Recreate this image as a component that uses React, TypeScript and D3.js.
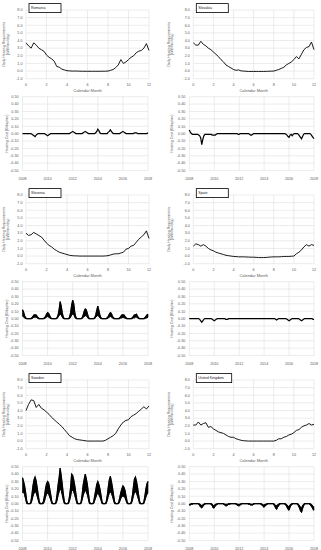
import React from "react";
import * as d3 from "d3";

// 국가 이름 (범례 상자)
const countries = ["Romania", "Slovakia", "Slovenia", "Spain", "Sweden", "United Kingdom"];

// 축 눈금
const monthTicks = [0, 2, 4, 6, 8, 10, 12];
const heatTicks = [-1, 0, 1, 2, 3, 4, 5, 6, 7, 8];
const yearTicks = [2008, 2010, 2012, 2014, 2016, 2018];
const costTicks = [-0.5, -0.4, -0.3, -0.2, -0.1, 0, 0.1, 0.2, 0.3, 0.4, 0.5];

// 일일 난방 요구량 (kWh/m²/day), 0~12월, 0.25개월 간격
const heatRomania = [
  3.7, 3.3, 3.0, 3.7, 3.4, 3.0, 2.8, 2.6, 2.1, 1.8, 1.6, 1.3,
  0.6, 0.5, 0.25, 0.15, 0.05, 0.02, 0.0, 0.0, 0.0, -0.02, -0.02, -0.03,
  -0.03, -0.03, -0.03, -0.03, -0.03, -0.03, -0.02, -0.02, 0.0, 0.1, 0.2, 0.45,
  0.8, 1.5, 1.0, 1.2, 1.5, 1.8, 2.0, 2.4, 2.6, 2.7, 3.0, 3.6, 2.7,
];
const heatSlovakia = [
  3.7, 3.4, 3.4, 3.9, 3.5, 3.3, 3.0, 2.8, 2.5, 2.2, 1.9, 1.5,
  1.2, 0.8, 0.6, 0.4, 0.2, 0.1, 0.15, 0.02, 0.0, -0.03, -0.05, -0.05,
  -0.05, -0.05, -0.05, -0.05, -0.05, -0.04, -0.03, -0.01, 0.0, 0.1, 0.2, 0.35,
  0.5, 0.8, 1.0, 1.2, 1.5, 1.9, 1.6, 2.2, 2.8, 3.1, 3.2, 3.8, 2.8,
];
const heatSlovenia = [
  3.0, 2.7, 2.8, 3.1, 2.9, 2.7, 2.5, 2.1, 1.7, 1.4, 1.2, 0.9,
  0.7, 0.5, 0.4, 0.3, 0.2, 0.1, 0.05, 0.03, 0.02, 0.0, 0.0, 0.0,
  0.0, 0.0, 0.0, 0.0, 0.0, 0.0, 0.0, 0.02, 0.05, 0.15, 0.25, 0.3,
  0.3, 0.4, 0.5, 0.9, 1.0, 1.3, 1.4, 1.8, 2.2, 2.5, 2.8, 3.3, 2.3,
];
const heatSpain = [
  1.3, 1.6, 1.5, 1.3, 1.5, 1.3, 1.0, 0.8, 0.7, 0.5, 0.4, 0.3,
  0.2, 0.1, 0.05, 0.0, -0.05, -0.07, -0.1, -0.1, -0.1, -0.12, -0.13, -0.15,
  -0.15, -0.17, -0.2, -0.2, -0.2, -0.18, -0.15, -0.12, -0.1, -0.1, -0.1, -0.08,
  -0.05, -0.05, -0.05, -0.02, 0.0, 0.3, 0.5, 0.8, 1.2, 1.5, 1.3, 1.5, 1.4,
];
const heatSweden = [
  4.0, 4.8, 5.4, 5.3, 4.4, 4.8, 4.3, 4.1, 3.8, 3.5, 3.1, 2.8,
  2.5, 2.2, 1.9, 1.5, 1.1, 0.7, 0.5, 0.3, 0.2, 0.15, 0.1, 0.05,
  0.0, 0.0, 0.0, 0.0, 0.0, 0.0, 0.0, 0.1, 0.3, 0.5, 0.7, 1.0,
  1.6, 2.1, 2.5, 2.7, 2.8, 3.2, 3.4, 3.6, 3.9, 4.2, 4.5, 4.2, 4.6,
];
const heatUK = [
  2.1, 2.1, 2.5, 2.1, 2.3, 2.4, 1.8, 1.9, 1.6, 1.4, 1.2, 1.1,
  1.0, 0.8, 0.6, 0.5, 0.5, 0.3, 0.2, 0.1, 0.05, 0.02, 0.0, 0.0,
  0.0, 0.0, 0.0, 0.0, 0.0, 0.0, 0.0, 0.0, 0.0, 0.1, 0.3, 0.3,
  0.5, 0.6, 0.8, 0.9, 1.1, 1.4, 1.5, 1.8, 2.0, 2.1, 2.3, 2.1, 2.2,
];

// 난방 비용 (€/day/m²), 2008.0~2018.0 월별 (위쪽 / 아래쪽 경계)
const costRomania = [
  0, 0, 0, 0, 0, 0, 0, 0, 0, -0.01, -0.02, -0.03,
  -0.04, -0.02, -0.01, 0, 0, 0, 0, 0, 0, 0, -0.01, -0.02,
  -0.03, -0.02, -0.01, 0, 0, 0, 0, 0, 0, 0, 0, 0,
  0, 0, 0, 0, 0, 0, 0, 0, 0, 0, 0.01, 0.02,
  0.03, 0.02, 0.01, 0, 0, 0, 0, 0, 0, 0, 0.01, 0.02,
  0.03, 0.02, 0.01, 0, 0, 0, 0, 0, 0, 0, 0.01, 0.03,
  0.06, 0.04, 0.01, 0, 0, 0, 0, 0, 0, 0, 0.02, 0.03,
  0.05, 0.03, 0.01, 0, 0, 0, 0, 0, 0, 0, 0.01, 0.02,
  0.03, 0.02, 0.01, 0, 0, 0, 0, 0, 0, 0, 0, 0.01,
  0.01, 0.01, 0, 0, 0, 0, 0, 0, 0, 0, 0, 0,
  0.01,
];
const costSlovakia = [
  0.05, 0.02, 0, -0.01, -0.01, -0.01, -0.01, -0.01, -0.01, -0.02, -0.03, -0.06,
  -0.15, -0.08, -0.03, -0.01, -0.01, -0.01, -0.01, -0.01, -0.01, -0.01, -0.02, -0.02,
  -0.02, -0.02, -0.01, 0, 0, 0, 0, 0, 0, 0, 0, 0,
  0, 0, 0, 0, 0, 0, 0, 0, 0, 0, 0, -0.01,
  -0.01, 0, 0, 0, 0, 0, 0, 0, 0, 0, -0.01, -0.02,
  -0.02, -0.01, 0, 0, 0, 0, 0, 0, 0, 0, 0, 0,
  0, 0, 0, 0, 0, 0, 0, 0, 0, 0, 0, 0,
  0, 0, 0, 0, 0, 0, 0, 0, 0, -0.01, -0.02, -0.04,
  -0.05, -0.02, -0.01, -0.03, -0.01, 0, 0, 0, 0, -0.01, -0.03, -0.05,
  -0.07, -0.04, -0.01, 0, 0, 0, 0, 0, 0, -0.01, -0.03, -0.05,
  -0.07,
];
const costSpain = [
  0, 0, 0, 0, 0, 0, 0, 0, 0, 0, -0.01, -0.03,
  -0.05, -0.03, -0.01, 0, 0, 0, 0, 0, 0, 0, -0.01, -0.02,
  -0.03, -0.02, -0.01, 0, 0, 0, 0, 0, 0, 0, 0, -0.01,
  -0.01, -0.01, 0, 0, 0, 0, 0, 0, 0, 0, 0, 0,
  0, 0, 0, 0, 0, 0, 0, 0, 0, 0, 0, 0,
  0, 0, 0, 0, 0, 0, 0, 0, 0, 0, 0, 0,
  0, 0, 0, 0, 0, 0, 0, 0, 0, 0, 0, -0.01,
  -0.02, -0.01, 0, 0, 0, 0, 0, 0, 0, 0, -0.01, -0.02,
  -0.03, -0.02, -0.01, 0, 0, 0, 0, 0, 0, 0, -0.01, -0.02,
  -0.03, -0.02, -0.01, 0, 0, 0, 0, 0, 0, 0, 0, -0.01,
  -0.01,
];
const costSloveniaHi = [
  0.12, 0.09, 0.04, 0.01, 0, 0, 0, 0, 0, 0.01, 0.03, 0.05,
  0.05, 0.05, 0.03, 0.01, 0, 0, 0, 0, 0, 0.01, 0.03, 0.06,
  0.08, 0.07, 0.04, 0.01, 0, 0, 0, 0, 0, 0.01, 0.05, 0.12,
  0.23, 0.17, 0.08, 0.02, 0, 0, 0, 0, 0, 0.02, 0.08, 0.18,
  0.25, 0.20, 0.08, 0.02, 0, 0, 0, 0, 0, 0.01, 0.05, 0.10,
  0.13, 0.12, 0.07, 0.02, 0, 0, 0, 0, 0, 0.01, 0.05, 0.11,
  0.17, 0.11, 0.05, 0.01, 0, 0, 0, 0, 0, 0.01, 0.03, 0.06,
  0.08, 0.07, 0.03, 0.01, 0, 0, 0, 0, 0, 0.01, 0.03, 0.05,
  0.05, 0.05, 0.03, 0.01, 0, 0, 0, 0, 0, 0.01, 0.03, 0.05,
  0.05, 0.06, 0.03, 0.01, 0, 0, 0, 0, 0, 0.01, 0.03, 0.05,
  0.06,
];
const costSloveniaLo = [
  0.04, 0.02, 0.01, 0, 0, 0, 0, 0, 0, 0, 0.01, 0.02,
  0.02, 0.02, 0.01, 0, 0, 0, 0, 0, 0, 0, 0.01, 0.02,
  0.03, 0.02, 0.01, 0, 0, 0, 0, 0, 0, 0, 0.02, 0.04,
  0.06, 0.05, 0.02, 0, 0, 0, 0, 0, 0, 0, 0.02, 0.05,
  0.06, 0.06, 0.02, 0, 0, 0, 0, 0, 0, 0, 0.02, 0.03,
  0.04, 0.04, 0.02, 0, 0, 0, 0, 0, 0, 0, 0.02, 0.03,
  0.05, 0.03, 0.01, 0, 0, 0, 0, 0, 0, 0, 0.01, 0.02,
  0.03, 0.02, 0.01, 0, 0, 0, 0, 0, 0, 0, 0.01, 0.01,
  0.02, 0.01, 0.01, 0, 0, 0, 0, 0, 0, 0, 0.01, 0.01,
  0.02, 0.02, 0.01, 0, 0, 0, 0, 0, 0, 0, 0.01, 0.01,
  0.02,
];
const costSwedenHi = [
  0.35, 0.30, 0.24, 0.15, 0.04, 0, 0, 0, 0.02, 0.12, 0.24, 0.32,
  0.36, 0.31, 0.22, 0.12, 0.03, 0, 0, 0, 0.03, 0.10, 0.20, 0.27,
  0.30, 0.28, 0.20, 0.12, 0.03, 0, 0, 0, 0.02, 0.12, 0.25, 0.35,
  0.48, 0.38, 0.26, 0.13, 0.03, 0, 0, 0, 0.02, 0.10, 0.22, 0.40,
  0.38, 0.32, 0.24, 0.14, 0.04, 0, 0, 0, 0.02, 0.12, 0.25, 0.33,
  0.40, 0.34, 0.26, 0.14, 0.03, 0, 0, 0, 0.02, 0.10, 0.18, 0.26,
  0.30, 0.26, 0.20, 0.12, 0.03, 0, 0, 0, 0.02, 0.10, 0.22, 0.32,
  0.37, 0.30, 0.22, 0.12, 0.03, 0, 0, 0, 0.02, 0.08, 0.15, 0.20,
  0.24, 0.22, 0.18, 0.10, 0.03, 0, 0, 0, 0.02, 0.10, 0.22, 0.33,
  0.36, 0.30, 0.22, 0.12, 0.03, 0, 0, 0, 0.02, 0.10, 0.20, 0.27,
  0.30,
];
const costSwedenLo = [
  0.15, 0.16, 0.12, 0.06, 0, 0, 0, 0, 0, 0.04, 0.10, 0.14,
  0.16, 0.15, 0.10, 0.05, 0, 0, 0, 0, 0, 0.03, 0.09, 0.13,
  0.14, 0.13, 0.09, 0.05, 0, 0, 0, 0, 0, 0.04, 0.11, 0.16,
  0.20, 0.18, 0.12, 0.05, 0, 0, 0, 0, 0, 0.04, 0.10, 0.18,
  0.18, 0.16, 0.11, 0.06, 0, 0, 0, 0, 0, 0.05, 0.11, 0.15,
  0.18, 0.16, 0.12, 0.06, 0, 0, 0, 0, 0, 0.04, 0.08, 0.12,
  0.14, 0.12, 0.09, 0.05, 0, 0, 0, 0, 0, 0.04, 0.10, 0.14,
  0.16, 0.14, 0.10, 0.05, 0, 0, 0, 0, 0, 0.03, 0.07, 0.10,
  0.10, 0.10, 0.08, 0.04, 0, 0, 0, 0, 0, 0.04, 0.10, 0.15,
  0.16, 0.14, 0.10, 0.05, 0, 0, 0, 0, 0, 0.04, 0.09, 0.13,
  0.14,
];
const costUKHi = [
  -0.01, -0.01, 0, 0, 0, 0, 0, 0, 0, 0, -0.01, -0.02,
  -0.03, -0.02, -0.01, 0, 0, 0, 0, 0, 0, 0, -0.01, -0.03,
  -0.03, -0.01, -0.01, 0, 0, 0, 0, 0, 0, 0, -0.01, -0.01,
  -0.01, -0.01, 0, 0, 0, 0, 0, 0, 0, 0, -0.01, -0.01,
  -0.01, -0.01, 0, 0, 0, 0, 0, 0, 0, 0, 0, -0.01,
  -0.01, -0.01, 0, 0, 0, 0, 0, 0, 0, 0, -0.01, -0.02,
  -0.02, -0.01, -0.01, 0, 0, 0, 0, 0, 0, 0, -0.01, -0.03,
  -0.03, -0.02, -0.01, 0, 0, 0, 0, 0, 0, -0.01, -0.02, -0.04,
  -0.04, -0.02, -0.01, 0, 0, 0, 0, 0, 0, -0.01, -0.03, -0.05,
  -0.07, -0.03, -0.01, 0, 0, 0, 0, 0, 0, -0.01, -0.02, -0.04,
  -0.05,
];
const costUKLo = [
  -0.02, -0.02, -0.01, -0.01, 0, 0, 0, 0, 0, -0.01, -0.03, -0.05,
  -0.06, -0.04, -0.02, -0.01, 0, 0, 0, 0, 0, -0.01, -0.03, -0.06,
  -0.06, -0.03, -0.02, -0.01, 0, 0, 0, 0, 0, -0.01, -0.02, -0.03,
  -0.03, -0.02, -0.01, -0.01, 0, 0, 0, 0, 0, -0.01, -0.02, -0.03,
  -0.03, -0.02, -0.01, 0, 0, 0, 0, 0, 0, -0.01, -0.01, -0.02,
  -0.02, -0.02, -0.01, 0, 0, 0, 0, 0, 0, -0.01, -0.02, -0.04,
  -0.05, -0.03, -0.02, -0.01, 0, 0, 0, 0, 0, -0.01, -0.03, -0.06,
  -0.08, -0.05, -0.03, -0.01, 0, 0, 0, 0, -0.01, -0.02, -0.05, -0.08,
  -0.09, -0.05, -0.02, -0.01, 0, 0, 0, 0, -0.01, -0.03, -0.06, -0.10,
  -0.12, -0.07, -0.03, -0.01, 0, 0, 0, 0, -0.01, -0.03, -0.05, -0.08,
  -0.09,
];

const heatSeries = [heatRomania, heatSlovakia, heatSlovenia, heatSpain, heatSweden, heatUK];
const costHiSeries = [costRomania, costSlovakia, costSloveniaHi, costSpain, costSwedenHi, costUKHi];
const costLoSeries = [null, null, costSloveniaLo, null, costSwedenLo, costUKLo];

// 레이아웃 (열별 플롯 영역)
const ROW_STEP = 185;
const cols = [
  { topL: 26, topR: 149, botL: 22.5, botR: 148, t1: 5.2, t2: 8.8, tb: 7.5 },
  { topL: 193.3, topR: 314, botL: 189.3, botR: 314, t1: 169.8, t2: 173.4, tb: 173 },
];
const TOP_Y0 = 10, TOP_Y1 = 78.7, BOT_Y0 = 96.7, BOT_Y1 = 170.5;

const FONT = "Liberation Sans, Arial, sans-serif";
const GRID = "#d9d9d9";
const TXT = "#595959";

const Panel: React.FC<{ idx: number }> = ({ idx }) => {
  const row = Math.floor(idx / 2);
  const g = cols[idx % 2];
  const oy = row * ROW_STEP;

  const xT = d3.scaleLinear().domain([0, 12]).range([g.topL, g.topR]);
  const yT = d3.scaleLinear().domain([-1, 8]).range([oy + TOP_Y1, oy + TOP_Y0]);
  const xB = d3.scaleLinear().domain([2008, 2018]).range([g.botL, g.botR]);
  const yB = d3.scaleLinear().domain([-0.5, 0.5]).range([oy + BOT_Y1, oy + BOT_Y0]);

  const heat = heatSeries[idx];
  const heatLine = d3.line<number>()
    .x((_, i) => xT(i / 4))
    .y(d => yT(d));

  const hi = costHiSeries[idx];
  const lo = costLoSeries[idx];
  const costLine = d3.line<number>()
    .x((_, i) => xB(2008 + i / 12))
    .y(d => yB(d));
  const band = lo
    ? d3.area<number>()
        .x((_, i) => xB(2008 + i / 12))
        .y0((_, i) => yB(lo[i]))
        .y1(d => yB(d))(hi)
    : null;

  const name = countries[idx];
  const boxW = Math.max(32, name.length * 2.1 + 6);
  const topMid = oy + (TOP_Y0 + TOP_Y1) / 2;
  const botMid = oy + (BOT_Y0 + BOT_Y1) / 2;

  return (
    <g>
      {/* 위쪽 차트: 격자 */}
      {heatTicks.map(t => (
        <line key={"hy" + t} x1={g.topL} x2={g.topR} y1={yT(t)} y2={yT(t)} stroke={GRID} strokeWidth={0.5} />
      ))}
      {monthTicks.map(t => (
        <line key={"hx" + t} x1={xT(t)} x2={xT(t)} y1={yT(-1)} y2={yT(8)} stroke={GRID} strokeWidth={0.5} />
      ))}
      {heatTicks.map(t => (
        <text key={"hyl" + t} x={g.topL - 3.5} y={yT(t) + 1.3} textAnchor="end" fontSize={3.7} fill={TXT}>
          {t.toFixed(1)}
        </text>
      ))}
      {monthTicks.map(t => (
        <text key={"hxl" + t} x={xT(t)} y={oy + TOP_Y1 + 7.6} textAnchor="middle" fontSize={3.7} fill={TXT}>
          {t}
        </text>
      ))}
      <text x={(g.topL + g.topR) / 2} y={oy + TOP_Y1 + 13.3} textAnchor="middle" fontSize={4} fill={TXT}>
        Calendar Month
      </text>
      <text transform={`translate(${g.t1},${topMid}) rotate(-90)`} textAnchor="middle" fontSize={3.6} fill={TXT}>
        Daily Heating Requirements
      </text>
      <text transform={`translate(${g.t2},${topMid}) rotate(-90)`} textAnchor="middle" fontSize={3.6} fill={TXT}>
        (kWh/m²/day)
      </text>
      <path d={heatLine(heat) || ""} fill="none" stroke="#000" strokeWidth={0.9} />
      <rect x={g.topL + 3} y={oy + 3.6} width={boxW} height={9} fill="#fff" stroke="#000" strokeWidth={0.8} />
      <text x={g.topL + 5} y={oy + 9.2} fontSize={3.6} fill="#222">{name}</text>

      {/* 아래쪽 차트: 난방 비용 */}
      {costTicks.map(t => (
        <line key={"cy" + t} x1={g.botL} x2={g.botR} y1={yB(t)} y2={yB(t)} stroke={GRID} strokeWidth={0.5} />
      ))}
      {yearTicks.map(t => (
        <line key={"cx" + t} x1={xB(t)} x2={xB(t)} y1={yB(-0.5)} y2={yB(0.5)} stroke={GRID} strokeWidth={0.5} />
      ))}
      {costTicks.map(t => (
        <text key={"cyl" + t} x={g.botL - 4} y={yB(t) + 1.3} textAnchor="end" fontSize={3.7} fill={TXT}>
          {t.toFixed(2)}
        </text>
      ))}
      {yearTicks.map(t => (
        <text key={"cxl" + t} x={xB(t)} y={oy + BOT_Y1 + 9.5} textAnchor="middle" fontSize={3.7} fill={TXT}>
          {t}
        </text>
      ))}
      <text transform={`translate(${g.tb},${botMid}) rotate(-90)`} textAnchor="middle" fontSize={3.6} fill={TXT}>
        Heating Cost (€/day/m²)
      </text>
      {band && <path d={band || ""} fill="#000" stroke="#000" strokeWidth={0.6} />}
      <path d={costLine(hi) || ""} fill="none" stroke="#000" strokeWidth={1.2} />
      {lo && <path d={costLine(lo) || ""} fill="none" stroke="#000" strokeWidth={1} />}
    </g>
  );
};

export default function App() {
  return (
    <svg
      width={321}
      height={550}
      fontFamily={FONT}
      style={{ position: "absolute", left: 0, top: 0, background: "#fff" }}
    >
      <rect width={321} height={550} fill="#fff" />
      {countries.map((_, i) => (
        <Panel key={i} idx={i} />
      ))}
    </svg>
  );
}
